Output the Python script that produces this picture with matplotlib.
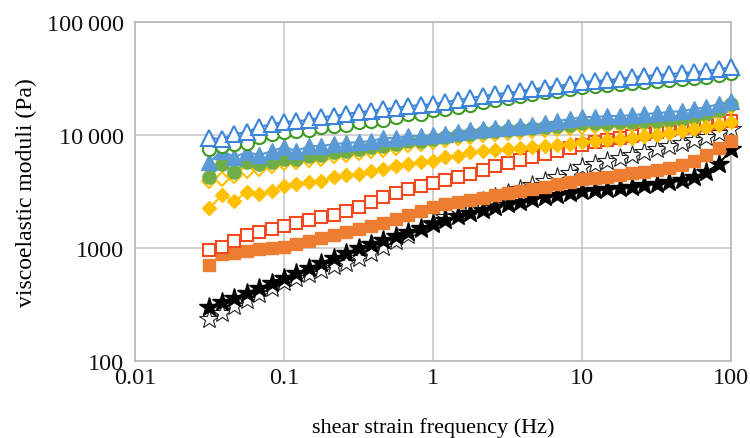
import numpy as np
import matplotlib
matplotlib.use('Agg')
from matplotlib import pyplot as plt
from matplotlib.ticker import FixedLocator, FixedFormatter, NullLocator

plt.rcParams['font.family'] = ['Liberation Serif', 'DejaVu Serif']

# 频率 (Hz), 每十倍频 12 点
freq = [0.0316, 0.0383, 0.0464, 0.0562, 0.0681, 0.0825, 0.1, 0.121, 0.147, 0.178,
        0.215, 0.261, 0.316, 0.383, 0.464, 0.562, 0.681, 0.825, 1, 1.21,
        1.47, 1.78, 2.15, 2.61, 3.16, 3.83, 4.64, 5.62, 6.81, 8.25,
        10, 12.1, 14.7, 17.8, 21.5, 26.1, 31.6, 38.3, 46.4, 56.2,
        68.1, 82.5, 100]

# 各样品模量 (Pa)
tri_open = [9410, 9220, 10200, 10630, 11770, 12510, 13030, 13300, 13580, 14430,
            14730, 15340, 15980, 16310, 16990, 17330, 18050, 18430, 18800, 19590,
            20400, 21250, 22130, 23050, 23530, 24510, 25530, 26060, 27140, 28270,
            29440, 30060, 30680, 31310, 32610, 33280, 33960, 34650, 35370, 36090,
            36850, 38380, 40000]
circ_open = [7520, 7990, 8330, 8500, 9600, 10200, 10630, 10850, 11070, 11770,
             12010, 12260, 13030, 13300, 13580, 14430, 15340, 15340, 16640, 16990,
             17690, 18430, 19590, 20400, 21250, 22130, 23050, 24010, 24510, 25530,
             26590, 27140, 27700, 28270, 28860, 29440, 30060, 30680, 31310, 31950,
             32610, 33960, 35370]
tri_fill = [5770, 7220, 6390, 7070, 6650, 7220, 7830, 7220, 7990, 7990,
            8330, 8500, 8670, 8850, 9410, 9410, 9800, 9800, 10000, 10200,
            10630, 11070, 11300, 11530, 11770, 12010, 12260, 12770, 13300, 13860,
            14430, 14430, 14730, 14730, 15030, 15340, 15660, 15980, 16310, 16990,
            17690, 18800, 19990]
circ_fill = [4250, 5540, 4710, 5770, 5540, 5770, 6130, 6130, 6520, 6650,
             7070, 7220, 7520, 7830, 7990, 8330, 8850, 8850, 9220, 9600,
             10000, 10200, 10630, 10850, 11070, 11300, 11530, 11770, 12010, 12260,
             12770, 12770, 12770, 13030, 13030, 13300, 13300, 13580, 13860, 14430,
             15340, 16640, 18800]
dia_fill = [2260, 2940, 2610, 3130, 3010, 3190, 3540, 3690, 3840, 3920,
            4250, 4430, 4520, 4800, 5000, 5320, 5540, 5770, 5890, 6390,
            6520, 7070, 7220, 7370, 7520, 7670, 7830, 7990, 8160, 8330,
            8670, 8850, 9030, 9220, 9410, 9800, 10000, 10410, 10850, 11300,
            11770, 12260, 13030]
dia_open = [3920, 4080, 4340, 4800, 5000, 5320, 5650, 5770, 6010, 6130,
            6520, 6650, 6930, 7220, 7370, 7670, 8160, 8330, 8670, 9030,
            9410, 9600, 10000, 10200, 10410, 10630, 10850, 11070, 11300, 11530,
            11770, 12010, 12010, 12260, 12260, 12510, 12510, 12770, 13030, 13580,
            14430, 15660, 17690]
sq_open = [960, 1020, 1150, 1300, 1390, 1470, 1570, 1660, 1770, 1880,
           1960, 2130, 2310, 2550, 2830, 3070, 3330, 3540, 3760, 4000,
           4250, 4520, 4900, 5320, 5650, 6010, 6390, 6790, 7220, 7670,
           8160, 8670, 9030, 9410, 9800, 10200, 10630, 11070, 11530, 11770,
           12260, 12770, 13300]
sq_fill = [707, 885, 900, 940, 980, 1000, 1020, 1080, 1150, 1230,
           1300, 1390, 1470, 1570, 1660, 1810, 1960, 2130, 2310, 2450,
           2550, 2660, 2770, 2940, 3070, 3190, 3330, 3470, 3690, 3840,
           4080, 4160, 4250, 4430, 4610, 4710, 4900, 5110, 5430, 5890,
           6650, 7670, 8850]
star_fill = [301, 333, 361, 400, 443, 490, 543, 601, 665, 737,
             815, 900, 1000, 1080, 1180, 1280, 1390, 1500, 1630, 1770,
             1920, 2040, 2170, 2310, 2450, 2550, 2710, 2830, 2940, 3070,
             3190, 3260, 3330, 3400, 3470, 3610, 3690, 3840, 4000, 4250,
             4710, 5540, 7500]
star_open = [235, 266, 307, 347, 392, 443, 500, 543, 589, 639,
             693, 737, 815, 900, 1020, 1150, 1300, 1470, 1660, 1880,
             2130, 2350, 2610, 2830, 3070, 3330, 3610, 3920, 4250, 4610,
             5210, 5540, 5890, 6260, 6650, 7070, 7520, 7990, 8500, 9030,
             9600, 10410, 11300]

blue = '#5B9BD5'
blue_edge = '#3D85D8'
green = '#70AD47'
green_edge = '#3E9A22'
yellow = '#FFC000'
orange = '#ED7D31'
red_edge = '#F04A1E'

fig = plt.figure(figsize=(7.5, 4.39), dpi=100)
ax = fig.add_axes([0.18, 0.1754, 0.795, 0.772])

# 从下往上画
common = dict(lw=1.5, clip_on=False)
ax.plot(freq, star_open, color='#333333', marker='*', ms=15,
        mfc='white', mec='#222222', mew=0.8, zorder=3, **common)
ax.plot(freq, star_fill, color='black', marker='*', ms=15,
        mfc='black', mec='black', zorder=4, **common)
ax.plot(freq, sq_fill, color=orange, marker='s', ms=8.5,
        mfc=orange, mec=orange, zorder=5, **common)
ax.plot(freq, sq_open, color=red_edge, marker='s', ms=8.5,
        mfc='white', mec=red_edge, mew=1.5, zorder=6, **common)
ax.plot(freq, dia_open, color=yellow, marker='D', ms=7.5,
        mfc='white', mec=yellow, mew=1.5, zorder=7, **common)
ax.plot(freq, circ_fill, color=green, marker='o', ms=9.5,
        mfc=green, mec=green, zorder=8, **common)
ax.plot(freq, tri_fill, color=blue, marker='^', ms=11,
        mfc=blue, mec=blue, zorder=9, **common)
ax.plot(freq, dia_fill, color=yellow, marker='D', ms=7.5,
        mfc=yellow, mec=yellow, zorder=10, **common)
ax.plot(freq, circ_open, color=green_edge, marker='o', ms=9.5,
        mfc='white', mec=green_edge, mew=1.5, zorder=11, **common)
ax.plot(freq, tri_open, color=blue_edge, marker='^', ms=11,
        mfc='white', mec=blue_edge, mew=1.5, zorder=12, **common)

ax.set_xscale('log')
ax.set_yscale('log')
ax.set_xlim(0.01, 100)
ax.set_ylim(100, 100000)

ax.xaxis.set_major_locator(FixedLocator([0.01, 0.1, 1, 10, 100]))
ax.xaxis.set_major_formatter(FixedFormatter(['0.01', '0.1', '1', '10', '100']))
ax.yaxis.set_major_locator(FixedLocator([100, 1000, 10000, 100000]))
ax.yaxis.set_major_formatter(FixedFormatter(['100', '1000', '10\u2009000', '100\u2009000']))
ax.xaxis.set_minor_locator(NullLocator())
ax.yaxis.set_minor_locator(NullLocator())

ax.tick_params(length=0, labelsize=17.5, colors='#111111')
ax.tick_params(axis='x', pad=4)
ax.tick_params(axis='y', pad=8)
ax.grid(True, color='#C8C8C8', lw=1.2, zorder=0)
for s in ax.spines.values():
    s.set_color('#B8B8B8')
    s.set_linewidth(1.2)

ax.set_xlabel('shear strain frequency (Hz)', fontsize=16, labelpad=21)
ax.set_ylabel('viscoelastic moduli (Pa)', fontsize=17, labelpad=7)

plt.savefig('out.png', dpi=100)
